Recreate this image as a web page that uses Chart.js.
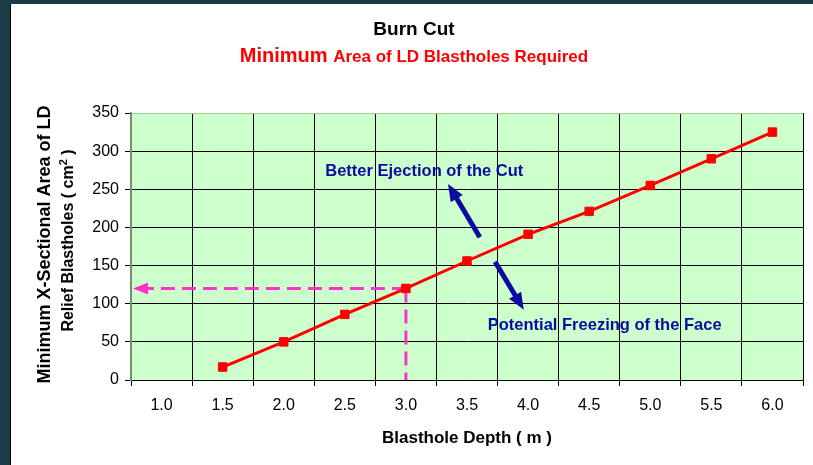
<!DOCTYPE html>
<html>
<head>
<meta charset="utf-8">
<script src="https://cdn.jsdelivr.net/npm/chart.js@4.4.1/dist/chart.umd.min.js"></script>
<style>
  html, body { margin: 0; padding: 0; }
  body { width: 813px; height: 465px; background: #1a3c47; position: relative; overflow: hidden; }
  #panel { position: absolute; left: 10px; top: 4px; width: 803px; height: 461px; background: #fff; border-left: 1px solid #000; }
  #chartBox { position: absolute; left: 0; top: 0; width: 802px; height: 461px; }
</style>
</head>
<body>
<div id="panel"><div id="chartBox"><canvas id="myChart"></canvas></div></div>
<script>
document.addEventListener("DOMContentLoaded", function(){

    // blasthole depth categories (m)
    var depths = ['1.0','1.5','2.0','2.5','3.0','3.5','4.0','4.5','5.0','5.5','6.0'];

    // minimum relief hole area (cm2), no value at 1.0 m
    var minArea = [null, 17, 50, 86, 120, 156, 191, 221, 255, 290, 325];

    var yTicks = [0, 50, 100, 150, 200, 250, 300, 350];

    // reading shown by the dashed guide (3.0 m)
    var guideIndex = 4;

    var FONT = "'Liberation Sans', Arial, sans-serif";
    var BLUE = '#0b0ba0';
    var PINK = '#ff33cc';

    // annotations placed in data space (category index, value)
    var notes = [
        { text: 'Better Ejection of the Cut', x: 2.68, y: 267 },
        { text: 'Potential Freezing of the Face', x: 5.34, y: 65 }
    ];
    var arrows = [
        { from: [5.21, 187], to: [4.69, 257] },
        { from: [5.46, 155], to: [5.93, 92] }
    ];

    function arrowHead(ctx, x1, y1, x2, y2, len, half) {
        var a = Math.atan2(y2 - y1, x2 - x1);
        ctx.beginPath();
        ctx.moveTo(x2, y2);
        ctx.lineTo(x2 - len * Math.cos(a) + half * Math.sin(a), y2 - len * Math.sin(a) - half * Math.cos(a));
        ctx.lineTo(x2 - len * Math.cos(a) - half * Math.sin(a), y2 - len * Math.sin(a) + half * Math.cos(a));
        ctx.closePath();
        ctx.fill();
    }

    var plotBg = {
        id: 'plotBg',
        beforeDraw: function(chart) {
            var a = chart.chartArea, ctx = chart.ctx;
            ctx.save();
            ctx.fillStyle = '#ccffcc';
            ctx.fillRect(a.left, a.top, a.right - a.left, a.bottom - a.top);
            ctx.restore();
        }
    };

    // dashed guide from the 3.0 m point to both axes
    var guide = {
        id: 'guide',
        beforeDatasetsDraw: function(chart) {
            var xs = chart.scales.x, ys = chart.scales.y, a = chart.chartArea, ctx = chart.ctx;
            var px = xs.getPixelForValue(guideIndex);
            var py = ys.getPixelForValue(minArea[guideIndex]);
            ctx.save();
            ctx.strokeStyle = PINK;
            ctx.fillStyle = PINK;
            ctx.lineWidth = 3;
            ctx.setLineDash([14, 7]);
            ctx.beginPath();
            ctx.moveTo(px, py);
            ctx.lineTo(a.left + 14, py);
            ctx.moveTo(px, py);
            ctx.lineTo(px, a.bottom);
            ctx.stroke();
            ctx.setLineDash([]);
            arrowHead(ctx, a.left + 20, py, a.left + 2, py, 15, 6);
            ctx.restore();
        }
    };

    var labels = {
        id: 'labels',
        afterDatasetsDraw: function(chart) {
            var xs = chart.scales.x, ys = chart.scales.y, a = chart.chartArea, ctx = chart.ctx;
            ctx.save();

            // blue notes and arrows
            ctx.fillStyle = BLUE;
            ctx.strokeStyle = BLUE;
            ctx.font = 'bold 16.5px ' + FONT;
            ctx.textBaseline = 'alphabetic';
            notes.forEach(function(n){
                ctx.fillText(n.text, xs.getPixelForValue(n.x), ys.getPixelForValue(n.y));
            });
            ctx.lineWidth = 5;
            arrows.forEach(function(ar){
                var x1 = xs.getPixelForValue(ar.from[0]), y1 = ys.getPixelForValue(ar.from[1]);
                var x2 = xs.getPixelForValue(ar.to[0]), y2 = ys.getPixelForValue(ar.to[1]);
                var ang = Math.atan2(y2 - y1, x2 - x1);
                ctx.beginPath();
                ctx.moveTo(x1, y1);
                ctx.lineTo(x2 - 12 * Math.cos(ang), y2 - 12 * Math.sin(ang));
                ctx.stroke();
                arrowHead(ctx, x1, y1, x2, y2, 17, 7);
            });

            // titles
            var cx = 403;
            ctx.textAlign = 'center';
            ctx.fillStyle = '#000';
            ctx.font = 'bold 19px ' + FONT;
            ctx.fillText('Burn Cut', cx, 31);

            ctx.fillStyle = '#ff0000';
            ctx.textAlign = 'left';
            ctx.font = 'bold 20px ' + FONT;
            var p1 = 'Minimum ';
            var w1 = ctx.measureText(p1).width;
            ctx.font = 'bold 17px ' + FONT;
            var p2 = 'Area of LD Blastholes Required';
            var w2 = ctx.measureText(p2).width;
            var sx = cx - (w1 + w2) / 2;
            ctx.font = 'bold 20px ' + FONT;
            ctx.fillText(p1, sx, 58);
            ctx.font = 'bold 17px ' + FONT;
            ctx.fillText(p2, sx + w1, 58);

            // x axis title
            ctx.fillStyle = '#000';
            ctx.textAlign = 'center';
            ctx.font = 'bold 17px ' + FONT;
            ctx.fillText('Blasthole Depth ( m )', (a.left + a.right) / 2, 439);

            // y axis title, two lines rotated
            var midY = (a.top + a.bottom) / 2;
            ctx.translate(34, midY - 2);
            ctx.rotate(-Math.PI / 2);
            ctx.textBaseline = 'middle';
            ctx.font = 'bold 18px ' + FONT;
            ctx.fillText('Minimum X-Sectional Area of LD', 0, 0);
            var t1 = 'Relief Blastholes ( cm', t2 = '2', t3 = ' )';
            ctx.font = 'bold 16px ' + FONT;
            var wa = ctx.measureText(t1).width, wc = ctx.measureText(t3).width;
            ctx.font = 'bold 11px ' + FONT;
            var wb = ctx.measureText(t2).width;
            var lx = -(wa + wb + wc) / 2 + 4;
            ctx.textAlign = 'left';
            ctx.font = 'bold 16px ' + FONT;
            ctx.fillText(t1, lx, 24);
            ctx.font = 'bold 11px ' + FONT;
            ctx.fillText(t2, lx + wa, 19);
            ctx.font = 'bold 16px ' + FONT;
            ctx.fillText(t3, lx + wa + wb, 24);
            ctx.restore();
        }
    };

    var config = {
        type: 'line',
        data: {
            labels: depths,
            datasets: [{
                label: 'Minimum area',
                data: minArea,
                borderColor: '#ff0000',
                backgroundColor: '#ff0000',
                borderWidth: 3,
                pointStyle: 'rect',
                pointRadius: 6,
                pointBorderWidth: 1,
                pointBackgroundColor: '#ff0000',
                pointBorderColor: '#ff0000',
                tension: 0
            }]
        },
        options: {
            responsive: true,
            maintainAspectRatio: false,
            animation: false,
            layout: { padding: { left: 80, right: 10, top: 109, bottom: 0 } },
            plugins: { legend: { display: false }, title: { display: false }, tooltip: { enabled: false } },
            scales: {
                x: {
                    type: 'category',
                    offset: true,
                    afterFit: function(s){ s.height = 85; },
                    grid: {
                        offset: true,
                        color: function(c){ return c.index === depths.length ? '#99cc99' : '#000'; },
                        tickColor: '#000',
                        tickLength: 6,
                        lineWidth: 1
                    },
                    border: { color: '#000', width: 1 },
                    ticks: { color: '#000', font: { family: FONT, size: 16 }, padding: 10, maxRotation: 0, autoSkip: false }
                },
                y: {
                    min: 0,
                    max: 350,
                    afterFit: function(s){ s.width = 40; },
                    afterBuildTicks: function(s){ s.ticks = yTicks.map(function(v){ return { value: v }; }); },
                    grid: {
                        color: function(c){ return c.tick && c.tick.value === 350 ? '#99cc99' : '#000'; },
                        tickColor: '#000',
                        tickLength: 6,
                        lineWidth: 1
                    },
                    border: { color: '#6f8f6f', width: 2 },
                    ticks: { color: '#000', font: { family: FONT, size: 16 }, padding: 6 }
                }
            }
        },
        plugins: [plotBg, guide, labels]
    };

    new Chart(document.getElementById('myChart'), config);
});
</script>
</body>
</html>
